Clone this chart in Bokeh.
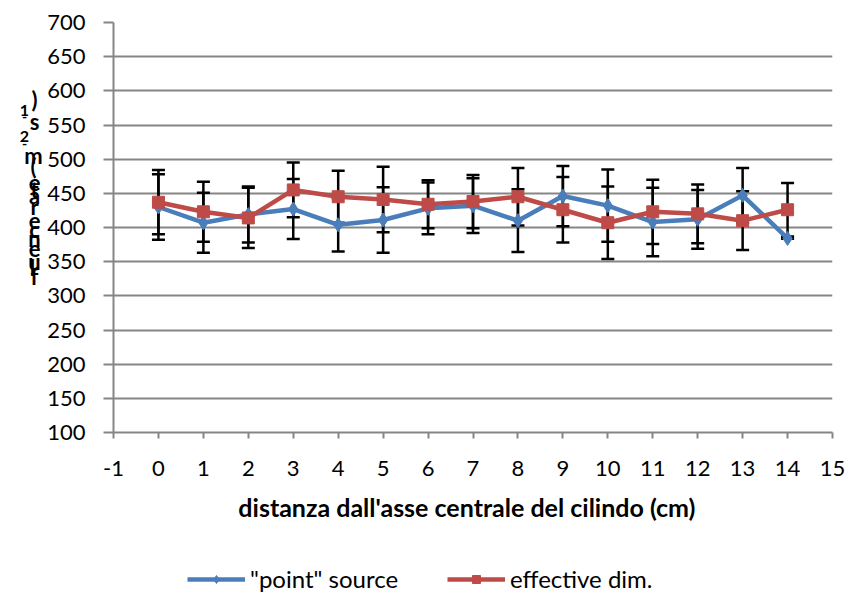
from bokeh.plotting import figure
from bokeh.models import (ColumnDataSource, Whisker, TeeHead, Legend, LegendItem,
                          FixedTicker, Range1d)
from bokeh.layouts import column, row
from bokeh.core.properties import value
from bokeh.embed import file_html
from bokeh.resources import INLINE

# ---- data ----
distance = [0, 1, 2, 3, 4, 5, 6, 7, 8, 9, 10, 11, 12, 13, 14]
point_source = [430, 407, 419, 427, 404, 411, 428, 432, 410, 446, 432, 408, 412, 447, 384]
point_err = [48, 44, 41, 44, 39, 48, 38, 40, 46, 44, 53, 50, 43, 40, 0]
effective_dim = [437, 423, 414, 455, 445, 441, 434, 438, 445, 426, 407, 423, 420, 410, 426]
effective_err = [47, 44, 44, 40, 38, 48, 35, 39, 42, 48, 53, 47, 43, 43, 39]
x_ticks = list(range(-1, 16))
y_ticks = list(range(100, 701, 50))
series_names = ['"point" source', "effective dim."]
x_title = "distanza dall'asse  centrale del cilindo  (cm)"
y_title_chars = [")", "1", "s", "2", "m", "(", "e", "t", "a", "r", "e", "c", "n", "e", "u", "l", "f"]

BLUE = "#4A7EBB"
RED = "#BE4B48"
GRID = "#868686"
FONT = "Lato"

TOP_H = 545
LEFT_W = 44

# ---------------- main chart ----------------
p = figure(width=858 - LEFT_W, height=TOP_H, output_backend="svg", toolbar_location=None,
           x_range=Range1d(-1, 15), y_range=Range1d(100, 700),
           min_border_left=112 - LEFT_W, min_border_right=26, min_border_top=22,
           min_border_bottom=TOP_H - 432)
p.outline_line_color = None
p.background_fill_color = "white"
p.border_fill_color = "white"

p.xaxis.ticker = FixedTicker(ticks=x_ticks)
p.yaxis.ticker = FixedTicker(ticks=y_ticks)
p.xaxis.major_label_overrides = {t: str(t) for t in x_ticks}
for ax in (p.xaxis[0], p.yaxis[0]):
    ax.axis_line_color = GRID
    ax.axis_line_width = 2
    ax.major_tick_line_color = GRID
    ax.major_tick_line_width = 2
    ax.minor_tick_line_color = None
    ax.major_label_text_font = FONT
    ax.major_label_text_font_size = "22px"
    ax.major_label_text_color = "black"
p.xaxis.major_tick_out = 6
p.xaxis.major_tick_in = 0
p.yaxis.major_tick_out = 10
p.yaxis.major_tick_in = 0
p.xaxis.major_label_standoff = 22
p.yaxis.major_label_standoff = 18
p.xaxis.axis_label = x_title
p.xaxis.axis_label_text_font = FONT
p.xaxis.axis_label_text_font_style = "bold"
p.xaxis.axis_label_text_font_size = "25px"
p.xaxis.axis_label_text_color = "black"
p.xaxis.axis_label_standoff = 13

p.xgrid.grid_line_color = None
p.ygrid.ticker = FixedTicker(ticks=y_ticks)
p.ygrid.grid_line_color = GRID
p.ygrid.grid_line_width = 2

src_p = ColumnDataSource(dict(x=distance, y=point_source,
                              lo=[v - e for v, e in zip(point_source, point_err)],
                              hi=[v + e for v, e in zip(point_source, point_err)]))
src_e = ColumnDataSource(dict(x=distance, y=effective_dim,
                              lo=[v - e for v, e in zip(effective_dim, effective_err)],
                              hi=[v + e for v, e in zip(effective_dim, effective_err)]))
for src in (src_p, src_e):
    w = Whisker(source=src, base="x", upper="hi", lower="lo",
                line_color="black", line_width=2.5,
                upper_head=TeeHead(size=13, line_color="black", line_width=2.5),
                lower_head=TeeHead(size=13, line_color="black", line_width=2.5))
    p.add_layout(w)

p.line("x", "y", source=src_p, line_color=BLUE, line_width=4.5)
p.scatter("x", "y", source=src_p, marker="diamond", size=14,
          fill_color=BLUE, line_color=BLUE)
p.line("x", "y", source=src_e, line_color=RED, line_width=4.5)
p.scatter("x", "y", source=src_e, marker="square", size=12,
          fill_color=RED, line_color=RED)

# ---------------- stacked y-axis title (left strip) ----------------
pl = figure(width=LEFT_W, height=TOP_H, output_backend="svg", toolbar_location=None,
            x_range=Range1d(0, LEFT_W), y_range=Range1d(TOP_H, 0),
            x_axis_type=None, y_axis_type=None,
            min_border_left=0, min_border_right=0, min_border_top=0, min_border_bottom=0)
pl.outline_line_color = None
pl.xgrid.visible = False
pl.ygrid.visible = False
char_px = [(34, 103), (24, 117), (34, 131), (24, 152), (33, 177), (33, 192),
           (34, 213), (34, 222), (34, 230), (34, 244), (34, 263), (34, 275),
           (34, 287), (34, 300), (34, 318), (32, 326), (34, 338)]
big = [(c, xy) for c, xy in zip(y_title_chars, char_px) if c not in ("1", "2")]
small = [(c, xy) for c, xy in zip(y_title_chars, char_px) if c in ("1", "2")]
for group, fs in ((big, "22px"), (small, "16px")):
    pl.text(x=[xy[0] for _, xy in group], y=[xy[1] for _, xy in group],
            text=[c for c, _ in group], text_align="center", text_baseline="middle",
            text_font=value(FONT), text_font_style="bold", text_font_size=fs,
            text_color="black")
pl.text(x=[24, 24], y=[125, 161], text=["-", "-"], text_align="center",
        text_baseline="middle", text_font=value(FONT), text_font_style="bold",
        text_font_size="14px", text_color="black")

# ---------------- legend strip ----------------
LEG_H = 597 - TOP_H
pg = figure(width=858, height=LEG_H, output_backend="svg", toolbar_location=None,
            x_range=Range1d(-3, -2), y_range=Range1d(0, 1),
            x_axis_type=None, y_axis_type=None,
            min_border_left=0, min_border_right=0, min_border_top=0, min_border_bottom=0)
pg.outline_line_color = None
pg.xgrid.visible = False
pg.ygrid.visible = False
# the same series, drawn outside this strip's view, only to supply legend swatches
g1 = pg.line("x", "y", source=src_p, line_color=BLUE, line_width=4.5)
s1 = pg.scatter("x", "y", source=src_p, marker="diamond", size=12,
                fill_color=BLUE, line_color=BLUE)
g2 = pg.line("x", "y", source=src_e, line_color=RED, line_width=4.5)
s2 = pg.scatter("x", "y", source=src_e, marker="square", size=12,
                fill_color=RED, line_color=RED)
for name, rends, x0 in ((series_names[0], [g1, s1], 187), (series_names[1], [g2, s2], 447)):
    lg = Legend(items=[LegendItem(label=name, renderers=rends)],
                orientation="horizontal", location=(x0, 4),
                glyph_width=58, glyph_height=20, label_standoff=5,
                padding=0, margin=0, border_line_color=None,
                background_fill_alpha=0, label_text_font=FONT,
                label_text_font_size="24px", label_text_color="black")
    pg.add_layout(lg, "center")

layout = column(row(pl, p, spacing=0), pg, spacing=0)
open("out.html", "w").write(file_html(layout, INLINE))
